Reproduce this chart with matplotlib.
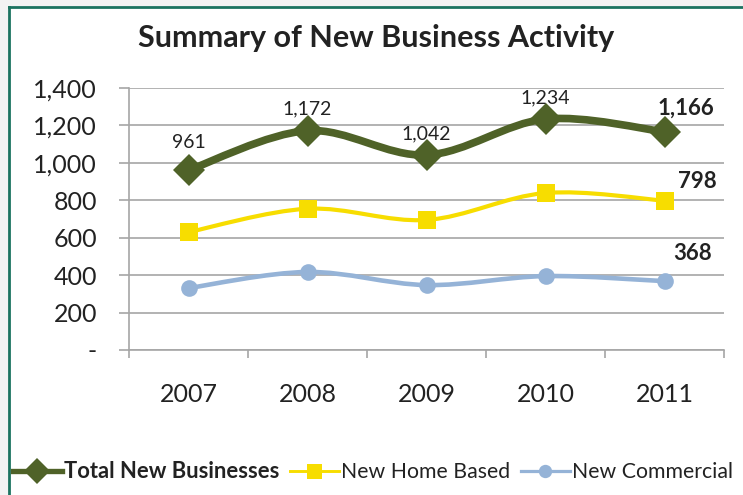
import matplotlib
matplotlib.use("Agg")
import matplotlib.pyplot as plt
from matplotlib.path import Path
from matplotlib.patches import PathPatch, Rectangle
from matplotlib.lines import Line2D
from matplotlib.ticker import FuncFormatter, FixedLocator
import numpy as np

plt.rcParams['font.family'] = ['Lato', 'DejaVu Sans']

years = ['2007', '2008', '2009', '2010', '2011']
total = [961, 1172, 1042, 1234, 1166]
home = [630, 755, 695, 839, 798]
commercial = [331, 417, 347, 395, 368]

c_total = '#4F6228'
c_home = '#F7DD00'
c_comm = '#95B3D7'
c_grid = '#A6A6A6'
c_text = '#222222'


def smooth_path(xs, ys):
    # excel-like smoothed line: cubic bezier segments through the points
    pts = np.column_stack([xs, ys]).astype(float)
    n = len(pts)
    verts = [pts[0]]
    codes = [Path.MOVETO]
    for i in range(n - 1):
        p0 = pts[i - 1] if i > 0 else pts[i]
        p1 = pts[i]
        p2 = pts[i + 1]
        p3 = pts[i + 2] if i + 2 < n else pts[i + 1]
        verts += [p1 + (p2 - p0) / 6, p2 - (p3 - p1) / 6, p2]
        codes += [Path.CURVE4] * 3
    return Path(verts, codes)


fig = plt.figure(figsize=(7.43, 4.95), dpi=100)
fig.patch.set_facecolor('#F3F3F3')
W, H = 743, 495
fig.patches.append(Rectangle((9 / W, 0), 1, 1 - 7 / H, transform=fig.transFigure,
                             facecolor='white', edgecolor='none', zorder=-10))
fig.lines.append(Line2D([9 / W, 9 / W], [0, 1 - 7 / H], transform=fig.transFigure,
                        color='#1C7360', lw=2, zorder=-5))
fig.lines.append(Line2D([9 / W, 1], [1 - 7 / H, 1 - 7 / H], transform=fig.transFigure,
                        color='#1C7360', lw=2, zorder=-5))

ax = fig.add_axes([129 / W, 1 - 350 / H, (724 - 129) / W, (350 - 88) / H])
ax.set_facecolor('none')
x = np.arange(len(years))

series = [
    (total, c_total, 'D', 16, 5.5, 'Total New Businesses'),
    (home, c_home, 's', 13.5, 3.0, 'New Home Based'),
    (commercial, c_comm, 'o', 12, 3.3, 'New Commercial'),
]
handles = []
for vals, col, mk, ms, lw, name in series:
    ax.add_patch(PathPatch(smooth_path(x, vals), facecolor='none', edgecolor=col,
                           lw=lw, capstyle='round', joinstyle='round', zorder=3))
    ax.plot(x, vals, linestyle='none', marker=mk, markersize=ms, color=col,
            markeredgewidth=0, zorder=4)
    handles.append(Line2D([], [], color=col, lw=lw * 0.7, marker=mk,
                          markersize=ms * 0.8, markeredgewidth=0, label=name))

ax.set_xlim(-0.5, 4.5)
ax.set_ylim(0, 1400)
ax.yaxis.set_major_locator(FixedLocator(np.arange(0, 1401, 200)))
ax.yaxis.set_major_formatter(FuncFormatter(lambda v, p: '-' if v == 0 else f'{int(v):,}'))
ax.grid(axis='y', color=c_grid, lw=1.2)
ax.set_axisbelow(True)

ax.set_xticks(np.arange(-0.5, 5, 1))
ax.set_xticklabels([])
ax.set_xticks(x, minor=True)
ax.set_xticklabels(years, minor=True)
ax.tick_params(axis='x', which='major', direction='out', length=6, width=1.2, color=c_grid)
ax.tick_params(axis='x', which='minor', length=0, pad=24, labelsize=18, labelcolor=c_text)
ax.tick_params(axis='y', direction='out', length=7, width=1.2, color=c_grid,
               pad=16, labelsize=18, labelcolor=c_text)

for s in ['top', 'right']:
    ax.spines[s].set_visible(False)
for s in ['left', 'bottom']:
    ax.spines[s].set_color(c_grid)
    ax.spines[s].set_linewidth(1.2)

# data labels (offsets in points, baseline aligned)
label_dy = [16, 11.5, 11.5, 11.5]
for i in range(4):
    ax.annotate(f'{total[i]:,}', (x[i], total[i]), xytext=(0, label_dy[i]),
                textcoords='offset points', ha='center', va='baseline',
                fontsize=14, color=c_text)
end_labels = [(total, -5, 12), (home, 9.4, 9.4), (commercial, 6.5, 15)]
for vals, dx, dy in end_labels:
    ax.annotate(f'{vals[-1]:,}', (x[-1], vals[-1]), xytext=(dx, dy), textcoords='offset points',
                ha='left', va='baseline', fontsize=16, fontweight='bold', color=c_text)

fig.text(376 / W, 1 - 38 / H, 'Summary of New Business Activity', ha='center', va='center',
         fontsize=22, fontweight='bold', color=c_text)

leg = fig.legend(handles=handles, loc='center left', bbox_to_anchor=(13 / W, 1 - 472 / H),
                 ncol=3, frameon=False, fontsize=15.3, handlelength=2.3, handletextpad=0.1,
                 columnspacing=0.5, borderaxespad=0, borderpad=0)
texts = leg.get_texts()
texts[0].set_fontweight('bold')
texts[0].set_fontsize(15.8)
for t in texts:
    t.set_color(c_text)

fig.savefig('out.png', dpi=100, facecolor=fig.get_facecolor())
